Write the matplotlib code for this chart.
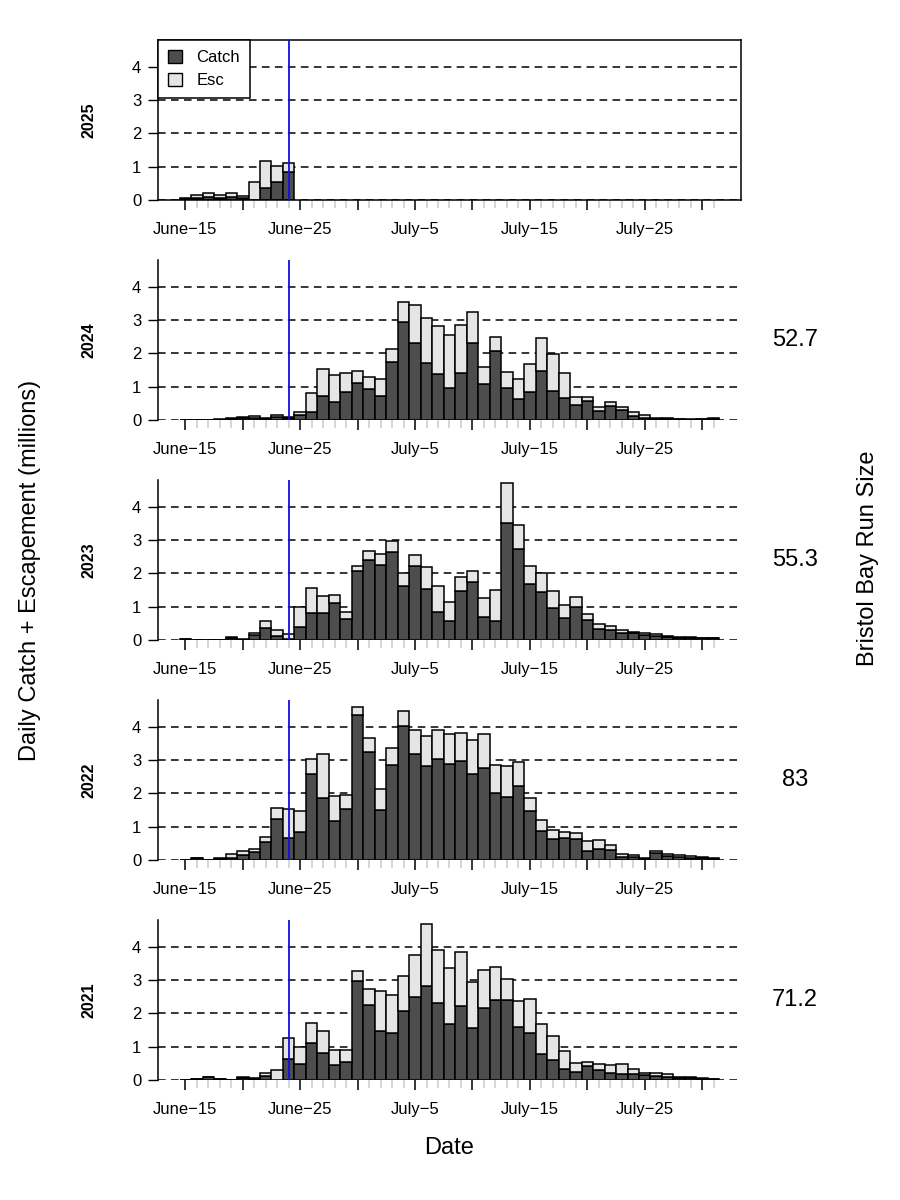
import numpy as np
import matplotlib
matplotlib.use('Agg')
import matplotlib.pyplot as plt
from matplotlib.patches import Patch

plt.rcParams['font.family'] = ['Liberation Sans', 'DejaVu Sans']

# days since June 15 (0 = June-15 ... 46 = July-31)
days = np.arange(47)
tick_labels = ['June\u221215', 'June\u221225', 'July\u22125', 'July\u221215', 'July\u221225']
label_days = [0, 10, 20, 30, 40]
cutoff_day = 9

years = [2025, 2024, 2023, 2022, 2021]
run_size = {2025: None, 2024: '52.7', 2023: '55.3', 2022: '83', 2021: '71.2'}

# daily catch + escapement (millions)
total_2025 = [0.05, 0.15, 0.22, 0.15, 0.21, 0.13, 0.53, 1.17, 1.03, 1.10]
catch_2025 = [0.03, 0.05, 0.08, 0.06, 0.08, 0.06, 0.00, 0.35, 0.55, 0.85]

total_2024 = [0.01, 0.01, 0.01, 0.02, 0.05, 0.10, 0.12, 0.05, 0.15, 0.10,
              0.23, 0.80, 1.54, 1.35, 1.40, 1.47, 1.30, 1.22, 2.12, 3.56,
              3.46, 3.06, 2.84, 2.56, 2.86, 3.24, 1.60, 2.50, 1.43, 1.22,
              1.69, 2.46, 1.97, 1.42, 0.70, 0.68, 0.38, 0.54, 0.39, 0.24,
              0.15, 0.07, 0.05, 0.03, 0.02, 0.04, 0.06]
catch_2024 = [0.005, 0.005, 0.005, 0.01, 0.04, 0.06, 0.05, 0.03, 0.10, 0.05,
              0.15, 0.23, 0.72, 0.55, 0.83, 1.12, 0.93, 0.72, 1.73, 2.96,
              2.32, 1.72, 1.38, 0.95, 1.41, 2.32, 1.07, 2.06, 0.95, 0.63,
              0.83, 1.48, 0.87, 0.65, 0.45, 0.57, 0.27, 0.42, 0.30, 0.11,
              0.07, 0.04, 0.03, 0.02, 0.015, 0.03, 0.04]

total_2023 = [0.03, 0.0, 0.0, 0.005, 0.08, 0.02, 0.20, 0.57, 0.30, 0.17,
              1.00, 1.56, 1.32, 1.36, 0.84, 2.21, 2.68, 2.60, 2.99, 2.00,
              2.56, 2.20, 1.63, 1.15, 1.90, 2.07, 1.27, 1.49, 4.73, 3.45,
              2.23, 2.00, 1.48, 1.04, 1.28, 0.78, 0.49, 0.42, 0.30, 0.25,
              0.21, 0.18, 0.13, 0.09, 0.08, 0.07, 0.07]
catch_2023 = [0.02, 0.0, 0.0, 0.005, 0.05, 0.01, 0.15, 0.35, 0.13, 0.03,
              0.38, 0.82, 0.82, 1.10, 0.63, 2.07, 2.40, 2.26, 2.65, 1.61,
              2.21, 1.52, 0.85, 0.58, 1.47, 1.73, 0.70, 0.58, 3.53, 2.75,
              1.69, 1.44, 0.97, 0.65, 1.00, 0.60, 0.32, 0.30, 0.22, 0.20,
              0.15, 0.13, 0.10, 0.06, 0.05, 0.05, 0.05]

total_2022 = [0.0, 0.07, 0.01, 0.05, 0.18, 0.26, 0.32, 0.70, 1.57, 1.54,
              1.46, 3.05, 3.20, 1.92, 1.94, 4.59, 3.67, 2.13, 3.36, 4.48,
              3.91, 3.74, 3.92, 3.78, 3.83, 3.60, 3.80, 2.86, 2.83, 2.96,
              1.85, 1.21, 0.90, 0.84, 0.82, 0.57, 0.60, 0.44, 0.19, 0.14,
              0.05, 0.26, 0.18, 0.16, 0.11, 0.08, 0.07]
catch_2022 = [0.0, 0.05, 0.01, 0.04, 0.05, 0.15, 0.23, 0.55, 1.24, 0.66,
              0.83, 2.60, 1.87, 1.18, 1.52, 4.35, 3.26, 1.49, 2.87, 4.03,
              3.19, 2.84, 3.03, 2.89, 2.99, 2.59, 2.76, 2.00, 1.90, 2.21,
              1.47, 0.88, 0.63, 0.67, 0.62, 0.28, 0.34, 0.30, 0.10, 0.10,
              0.04, 0.22, 0.12, 0.10, 0.07, 0.05, 0.04]

total_2021 = [0.01, 0.03, 0.09, 0.03, 0.01, 0.08, 0.05, 0.20, 0.30, 1.26,
              1.00, 1.72, 1.47, 0.90, 0.90, 3.29, 2.75, 2.69, 2.57, 3.13,
              3.77, 4.68, 3.92, 3.37, 3.84, 2.95, 3.32, 3.41, 3.05, 2.38,
              2.44, 1.69, 1.31, 0.86, 0.51, 0.54, 0.48, 0.44, 0.47, 0.32,
              0.20, 0.20, 0.17, 0.10, 0.08, 0.05, 0.03]
catch_2021 = [0.005, 0.02, 0.08, 0.02, 0.005, 0.07, 0.04, 0.13, 0.01, 0.62,
              0.48, 1.10, 0.82, 0.44, 0.55, 2.99, 2.24, 1.48, 1.41, 2.06,
              2.51, 2.83, 2.30, 1.69, 2.23, 1.56, 2.17, 2.42, 2.42, 1.60,
              1.42, 0.77, 0.60, 0.34, 0.25, 0.41, 0.31, 0.22, 0.17, 0.19,
              0.14, 0.13, 0.10, 0.07, 0.06, 0.04, 0.02]

totals = {2025: total_2025, 2024: total_2024, 2023: total_2023, 2022: total_2022, 2021: total_2021}
catches = {2025: catch_2025, 2024: catch_2024, 2023: catch_2023, 2022: catch_2022, 2021: catch_2021}

dark = '#4d4d4d'
light = '#e5e5e5'
blue = '#1010e0'

fig = plt.figure(figsize=(9, 12), dpi=100)

left = 158 / 900
width = (741 - 158) / 900
height = 160 / 1200

for i, yr in enumerate(years):
    bottom_px = 200 + 220 * i
    ax = fig.add_axes([left, 1 - bottom_px / 1200, width, height])

    tot = np.array(totals[yr])
    cat = np.array(catches[yr])
    esc = tot - cat
    x = days[:len(tot)]

    for h in range(5):
        ax.axhline(h, color='black', lw=1.1, dashes=(5, 3.5), zorder=1)

    ax.bar(x, cat, width=1, color=dark, edgecolor='black', linewidth=1.1, zorder=2)
    ax.bar(x, esc, bottom=cat, width=1, color=light, edgecolor='black', linewidth=1.1, zorder=2)

    ax.axvline(cutoff_day, color=blue, lw=1.3, zorder=3)

    ax.set_xlim(-2.38, 48.38)
    ax.set_ylim(0, 4.81)

    # ticks
    ax.set_yticks(range(5))
    ax.tick_params(axis='y', length=7, width=1, pad=5, labelsize=12)
    major = list(range(0, 47, 5))
    ax.set_xticks(major)
    ax.set_xticklabels([tick_labels[label_days.index(d)] if d in label_days else '' for d in major])
    ax.set_xticks([d for d in days if d % 5 != 0], minor=True)
    ax.tick_params(axis='x', which='major', length=7, width=1.1, color='black', pad=9, labelsize=12)
    ax.tick_params(axis='x', which='minor', length=6, width=1.1, color='#cccccc')

    if yr == 2025:
        for s in ax.spines.values():
            s.set_linewidth(1.1)
        leg = ax.legend(handles=[Patch(facecolor=dark, edgecolor='black', label='Catch'),
                                 Patch(facecolor=light, edgecolor='black', label='Esc')],
                        loc='upper left', fontsize=12, fancybox=False, framealpha=1,
                        edgecolor='black', borderaxespad=0, handlelength=0.85,
                        handleheight=0.85, handletextpad=0.85, borderpad=0.6,
                        labelspacing=0.45)
        leg.get_frame().set_linewidth(1.1)
        leg.set_zorder(5)
    else:
        for s in ['top', 'right', 'bottom']:
            ax.spines[s].set_visible(False)
        ax.spines['left'].set_linewidth(1.1)

    ax.text(-0.118, 0.5, str(yr), transform=ax.transAxes, rotation=90,
            ha='center', va='center', fontsize=11.5, fontweight='bold')
    if run_size[yr]:
        fig.text(795 / 900, 1 - (bottom_px - 80) / 1200, run_size[yr],
                 ha='center', va='center', fontsize=17)

fig.text(30 / 900, 1 - 570 / 1200, 'Daily Catch + Escapement (millions)',
         rotation=90, ha='center', va='center', fontsize=17)
fig.text(868 / 900, 1 - 558 / 1200, 'Bristol Bay Run Size',
         rotation=90, ha='center', va='center', fontsize=17)
fig.text(449 / 900, 1 - 1148 / 1200, 'Date', ha='center', va='center', fontsize=17)

fig.savefig('out.png', dpi=100)
